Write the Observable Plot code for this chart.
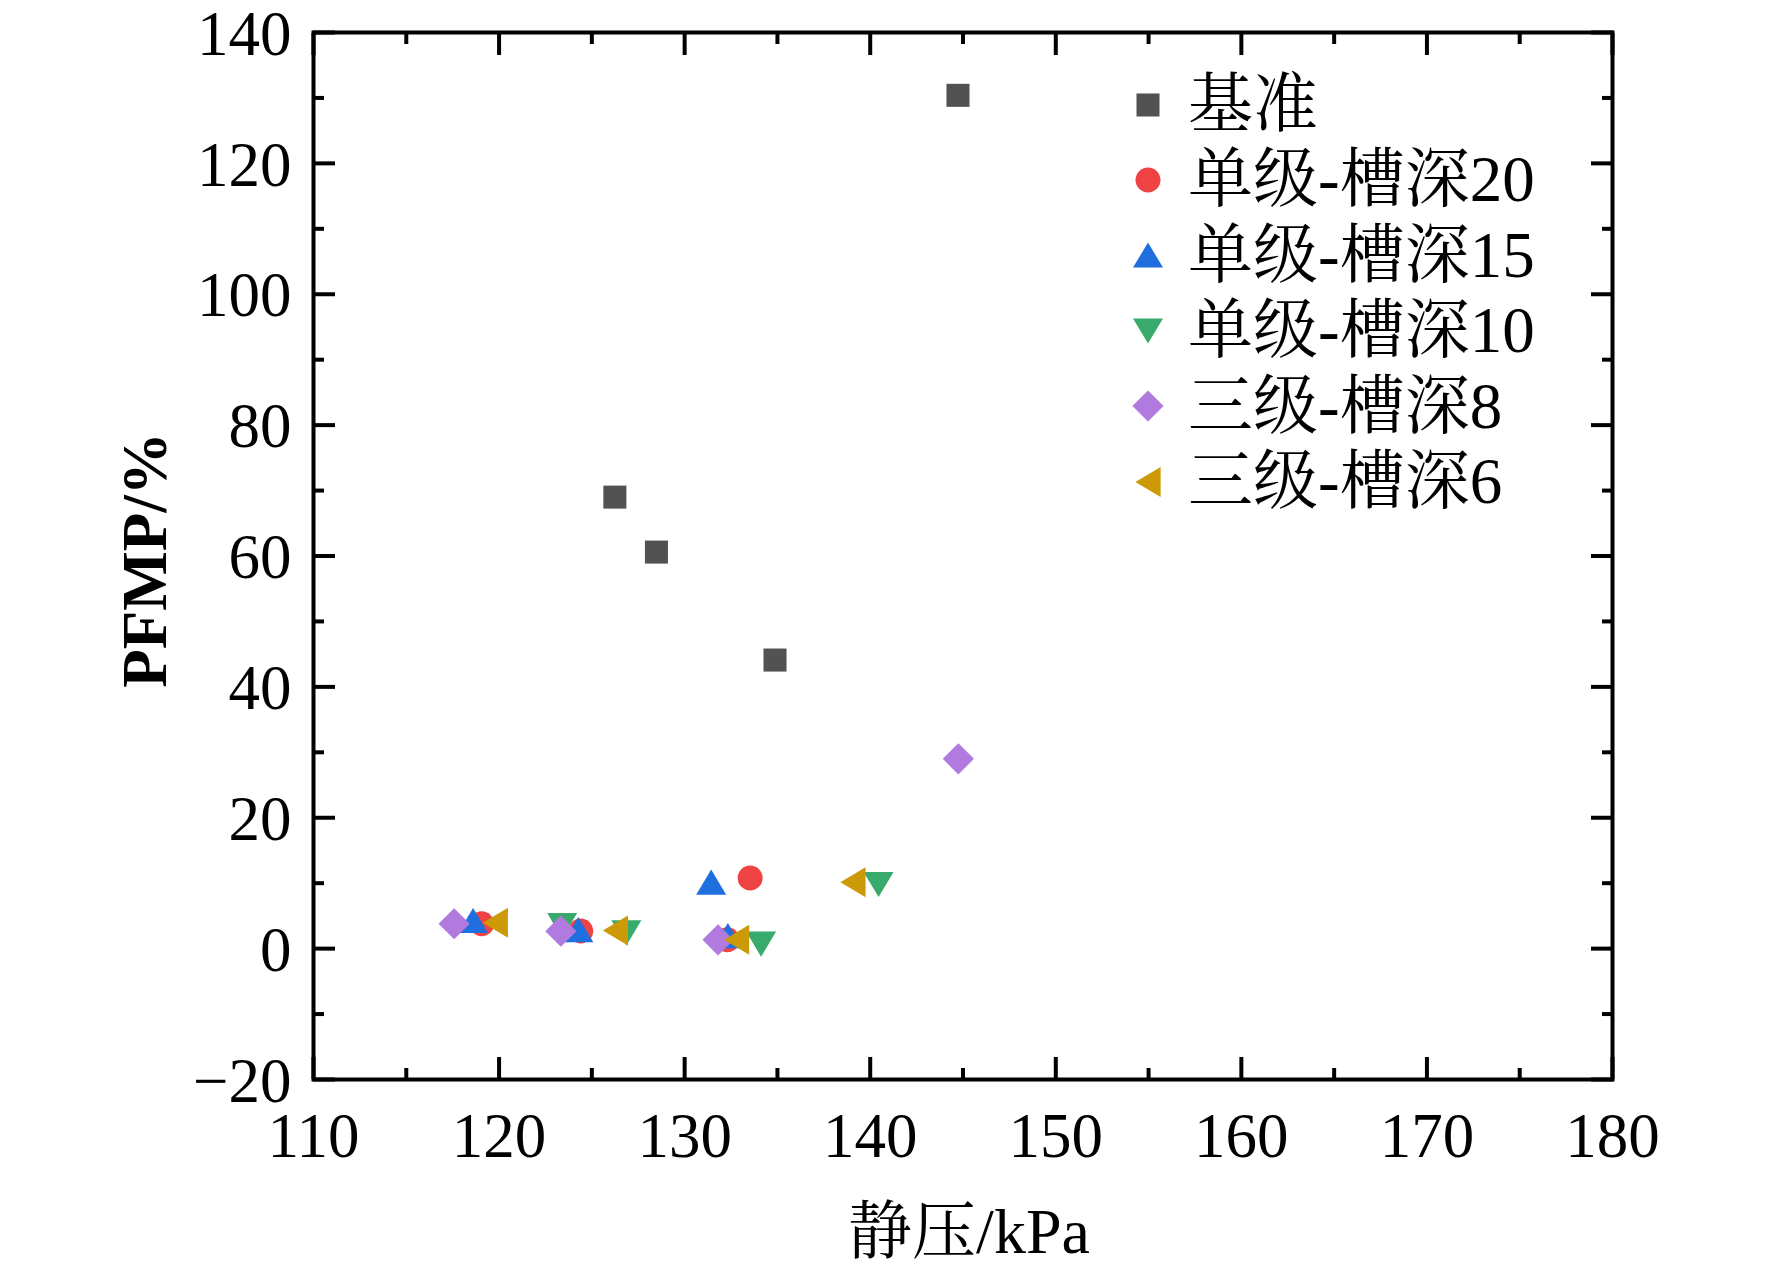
<!DOCTYPE html>
<html>
<head>
<meta charset="utf-8">
<script src="https://cdn.jsdelivr.net/npm/d3@7"></script>
<script src="https://cdn.jsdelivr.net/npm/@observablehq/plot@0.6"></script>
<style>
  html, body { margin: 0; padding: 0; background: #fff; }
  #wrap { position: relative; width: 1772px; height: 1269px; font-family: "Liberation Serif", "Times New Roman", "Noto Serif CJK SC", "Noto Sans CJK SC", serif; }
  #legend { position: absolute; left: 1120px; top: 67px; }
  .row { display: flex; align-items: center; height: 75.4px; }
  .row svg { width: 56px; height: 56px; flex: none; }
  .row span { font-size: 65px; line-height: 75.4px; margin-left: 12px; color: #000; white-space: nowrap; }
</style>
</head>
<body>
<div id="wrap"><div id="legend"></div></div>
<script>
// ---------- data ----------
const seriesNames = ["基准", "单级-槽深20", "单级-槽深15", "单级-槽深10", "三级-槽深8", "三级-槽深6"];
const seriesColors = ["#525252", "#ef4242", "#1f6fde", "#38aa6b", "#b07ade", "#cc9a06"];

const jizhunX = [126.24, 128.48, 134.87, 144.73];
const jizhunY = [69.0, 60.6, 44.1, 130.4];
const d20X = [119.06, 124.4, 132.3, 133.53];
const d20Y = [3.8, 2.7, 1.35, 10.8];
const d15X = [118.6, 124.27, 132.33, 131.43];
const d15Y = [4.3, 2.9, 2.0, 10.16];
const d10X = [123.4, 126.86, 134.12, 140.45];
const d10Y = [3.5, 2.4, 0.7, 9.8];
const s8X = [117.58, 123.33, 131.8, 144.75];
const s8Y = [3.8, 2.67, 1.35, 29.0];
const s6X = [119.8, 126.27, 132.8, 139.07];
const s6Y = [3.95, 2.78, 1.35, 10.16];

const xTicks = [110, 120, 130, 140, 150, 160, 170, 180];
const xMinor = [115, 125, 135, 145, 155, 165, 175];
const yTicks = [-20, 0, 20, 40, 60, 80, 100, 120, 140];
const yMinor = [-10, 10, 30, 50, 70, 90, 110, 130];

const xs = [jizhunX, d20X, d15X, d10X, s8X, s6X];
const ys = [jizhunY, d20Y, d15Y, d10Y, s8Y, s6Y];
const rows = [];
seriesNames.forEach((name, i) => xs[i].forEach((x, j) => rows.push({x, y: ys[i][j], series: name})));

// ---------- symbols ----------
const mk = (f) => ({draw(ctx, size) { const s = Math.sqrt(size / Math.PI); f(ctx, s); }});
const symSquare = mk((c, s) => { const h = 0.96 * s; c.moveTo(-h, -h); c.lineTo(h, -h); c.lineTo(h, h); c.lineTo(-h, h); c.closePath(); });
const symCircle = mk((c, s) => { const r = 1.04 * s; c.moveTo(r, 0); c.arc(0, 0, r, 0, 2 * Math.PI); c.closePath(); });
const symUp = mk((c, s) => { const b = 1.25 * s, h = 2.1 * s; c.moveTo(0, -h / 2); c.lineTo(b, h / 2); c.lineTo(-b, h / 2); c.closePath(); });
const symDown = mk((c, s) => { const b = 1.25 * s, h = 2.1 * s; c.moveTo(0, h / 2); c.lineTo(b, -h / 2); c.lineTo(-b, -h / 2); c.closePath(); });
const symDiamond = mk((c, s) => { const d = 1.3 * s; c.moveTo(0, -d); c.lineTo(d, 0); c.lineTo(0, d); c.lineTo(-d, 0); c.closePath(); });
const symLeft = mk((c, s) => { const b = 1.25 * s, h = 2.1 * s; c.moveTo(-h / 2, 0); c.lineTo(h / 2, -b); c.lineTo(h / 2, b); c.closePath(); });
const symbols = [symSquare, symCircle, symUp, symDown, symDiamond, symLeft];
const R = 12;

const font = "'Liberation Serif', 'Times New Roman', 'Noto Serif CJK SC', 'Noto Sans CJK SC', serif";
const tickStyle = {stroke: "#000", strokeWidth: 4, label: null, tickFormat: () => ""};

const chart = Plot.plot({
  width: 1772,
  height: 1269,
  marginLeft: 313,
  marginRight: 160,
  marginTop: 32,
  marginBottom: 190,
  style: {fontFamily: font, fontSize: "63px", background: "transparent", color: "#000", overflow: "visible"},
  x: {domain: [110, 180]},
  y: {domain: [-20, 140]},
  color: {domain: seriesNames, range: seriesColors},
  symbol: {domain: seriesNames, range: symbols},
  marks: [
    Plot.dot(rows, {x: "x", y: "y", symbol: "series", fill: "series", r: R, stroke: null}),
    Plot.frame({stroke: "#000", strokeWidth: 4}),
    // inward ticks, all four sides
    Plot.axisX({anchor: "bottom", ticks: xTicks, tickSize: -22, ...tickStyle}),
    Plot.axisX({anchor: "bottom", ticks: xMinor, tickSize: -11, ...tickStyle}),
    Plot.axisX({anchor: "top", ticks: xTicks, tickSize: -22, ...tickStyle}),
    Plot.axisX({anchor: "top", ticks: xMinor, tickSize: -11, ...tickStyle}),
    Plot.axisY({anchor: "left", ticks: yTicks, tickSize: -22, ...tickStyle}),
    Plot.axisY({anchor: "left", ticks: yMinor, tickSize: -11, ...tickStyle}),
    Plot.axisY({anchor: "right", ticks: yTicks, tickSize: -22, ...tickStyle}),
    Plot.axisY({anchor: "right", ticks: yMinor, tickSize: -11, ...tickStyle}),
    // tick labels
    Plot.axisX({anchor: "bottom", ticks: xTicks, tickSize: 0, tickPadding: 33, label: null, fontSize: 63}),
    Plot.axisY({anchor: "left", ticks: yTicks, tickSize: 0, tickPadding: 22, dy: 2, label: null, fontSize: 63}),
    // axis titles
    Plot.text(["静压/kPa"], {frameAnchor: "bottom", dx: 6, dy: 153, fontSize: 64, textAnchor: "middle", lineAnchor: "middle", fill: "#000"}),
    Plot.text(["PFMP/%"], {frameAnchor: "left", dx: -168, dy: 4, rotate: -90, fontSize: 63, fontWeight: "bold", textAnchor: "middle", lineAnchor: "middle", fill: "#000"})
  ]
});
const wrap = document.getElementById("wrap");
wrap.insertBefore(chart, wrap.firstChild);

// legend
const legend = document.getElementById("legend");
seriesNames.forEach((name, i) => {
  const row = document.createElement("div");
  row.className = "row";
  const path = d3.symbol(symbols[i], Math.PI * R * R)();
  row.innerHTML = `<svg viewBox="-28 -28 56 56"><path d="${path}" fill="${seriesColors[i]}"></path></svg><span>${name}</span>`;
  legend.appendChild(row);
});
</script>
</body>
</html>
